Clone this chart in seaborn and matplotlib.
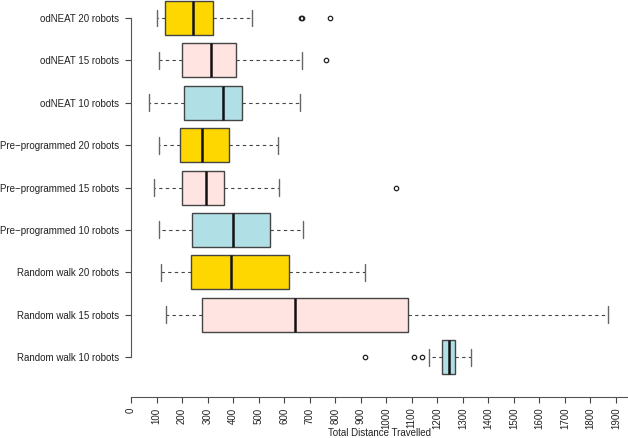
import pandas as pd
import numpy as np
import seaborn as sns
import matplotlib.pyplot as plt

# box statistics (top to bottom)
groups = ["odNEAT 20 robots", "odNEAT 15 robots", "odNEAT 10 robots",
          "Pre\u2212programmed 20 robots", "Pre\u2212programmed 15 robots", "Pre\u2212programmed 10 robots",
          "Random walk 20 robots", "Random walk 15 robots", "Random walk 10 robots"]
whisk_lo = [103, 111, 72, 108, 89, 108, 116, 136, 1169]
q1 = [134, 201, 206, 192, 199, 240, 234, 279, 1219]
med = [242, 312, 359, 279, 294, 398, 392, 642, 1247]
q3 = [321, 411, 436, 383, 365, 543, 620, 1085, 1270]
whisk_hi = [474, 670, 662, 577, 581, 673, 915, 1867, 1331]
outliers = [[666, 671, 779], [764], [], [], [1039], [], [], [], [918, 1110, 1140]]
colors = ["#FFD700", "#FFE4E1", "#B0E0E6"] * 3

# rebuild samples whose quartiles / whiskers match the read statistics
rows = []
for i, g in enumerate(groups):
    vals = [whisk_lo[i]] + [q1[i]] * 100 + [med[i]] * 100 + [q3[i]] * 100 + [whisk_hi[i]] + outliers[i]
    for v in vals:
        rows.append({"group": g, "distance": v})
df = pd.DataFrame(rows)

sns.set_style("ticks")
plt.rcParams['font.family'] = ['Liberation Sans', 'DejaVu Sans']

fig = plt.figure(figsize=(6.28, 4.38), dpi=100)
ax = fig.add_axes([131 / 628, 41 / 438, (628 - 131) / 628, 397 / 438])

sns.boxplot(data=df, x="distance", y="group", order=groups, hue="group", hue_order=groups,
            palette=colors, saturation=1, width=0.8, whis=1.5, legend=False,
            linecolor="#444444", linewidth=1, fliersize=3.2, ax=ax,
            medianprops={"color": "#111111", "linewidth": 1.8},
            whiskerprops={"color": "#444444", "linestyle": (0, (3, 3)), "linewidth": 0.8},
            capprops={"color": "#666666", "linewidth": 1},
            flierprops={"marker": "o", "markerfacecolor": "none", "markeredgecolor": "#222222",
                        "markeredgewidth": 0.9})

ax.set_xlim(0, 1947)
ax.set_ylim(8.94, -0.425)
ax.set_xticks(np.arange(0, 2000, 100))
ax.set_xticklabels([str(t) for t in range(0, 2000, 100)], rotation=90)
ax.tick_params(axis="both", labelsize=7, length=4.5, width=0.8, colors="#444444", labelcolor="#222222", pad=3)
ax.tick_params(axis="y", pad=4)

sns.despine(ax=ax, top=True, right=True)
ax.spines["left"].set_bounds(0, 8)
ax.spines["left"].set_color("#555555")
ax.spines["bottom"].set_color("#555555")
ax.spines["left"].set_linewidth(0.8)
ax.spines["bottom"].set_linewidth(0.8)

ax.set_ylabel("")
ax.set_xlabel("Total Distance Travelled", fontsize=7, color="#222222", labelpad=-1)

plt.savefig("out.png", dpi=100)
